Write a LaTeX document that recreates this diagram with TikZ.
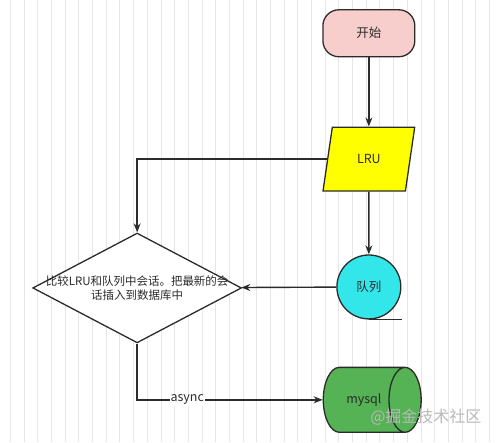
\documentclass[tikz,border=0pt]{standalone}
\usepackage{fontspec}
\newfontfamily\cjk{Noto Sans CJK SC}
\usetikzlibrary{shapes.geometric, positioning, arrows.meta}

\definecolor{startpink}{HTML}{F8CECC}
\definecolor{lruyellow}{HTML}{FFFF00}
\definecolor{queuecyan}{HTML}{33E6EA}
\definecolor{dbgreen}{HTML}{55B255}
\definecolor{inkgray}{HTML}{2B2B2B}
\definecolor{gridgray}{HTML}{E6E6E6}

\begin{document}
\begin{tikzpicture}[x=1pt,y=-1pt,>={Stealth[length=9pt,width=7pt]},font=\cjk\fontsize{12.5}{14}\selectfont,text=inkgray]

    % Define styles
    \tikzstyle{terminal} = [rectangle, rounded corners=16pt, draw=inkgray, line width=1.3pt, fill=startpink, minimum width=92pt, minimum height=47pt]
    \tikzstyle{io} = [trapezium, trapezium left angle=72, trapezium right angle=108, trapezium stretches=true, draw=inkgray, line width=1.3pt, fill=lruyellow, minimum width=92pt, minimum height=64pt, inner sep=0pt]
    \tikzstyle{queue} = [circle, draw=inkgray, line width=1.3pt, fill=queuecyan, minimum size=64pt, inner sep=0pt]
    \tikzstyle{decision} = [diamond, draw=inkgray, line width=1.3pt, fill=white, minimum width=209pt, minimum height=110pt, inner sep=0pt]
    \tikzstyle{store} = [cylinder, draw=inkgray, line width=1.3pt, fill=dbgreen, minimum height=98pt, minimum width=65pt, aspect=2.5, inner sep=0pt]
    \tikzstyle{flow} = [->, draw=inkgray, line width=1.4pt]
    \tikzstyle{watermark} = [text=gray!55, font=\cjk\fontsize{16}{18}\selectfont]

    % Background grid
    \fill[white] (0,0) rectangle (500,442);
    \draw[gridgray, line width=0.6pt, shift={(10,10)}] (-10,-10) grid[step=13.7] (490,432);
    \useasboundingbox (0,0) rectangle (500,442);

    % Shapes
    \node[terminal] (start) at (369,33) {开始};
    \node[io] (lru) at (369,159) {LRU};
    \node[queue] (list) at (369,287) {队列};
    \draw[inkgray, line width=1.3pt] (list.south) -- ++(33,0);
    \node[decision, label={[align=center, font=\cjk\fontsize{11.5}{14}\selectfont]center:{比较LRU和队列中会话。把最新的会\\话插入到数据库中}}] (cmp) at (137,288) {};
    \node[store] (db) at (364,400) {mysql};

    % Flows
    \draw[flow] (start) -- (lru);
    \draw[flow] (lru) -- (list);
    \draw[flow] (lru.west) -| (cmp.north);
    \draw[flow] (list) -- (cmp);
    \draw[flow] (cmp.south) |- node[pos=0.635, fill=white, inner sep=1pt] {async} (db.west);

    \node[watermark] (mark) at (426,417) {@掘金技术社区};

\end{tikzpicture}
\end{document}
